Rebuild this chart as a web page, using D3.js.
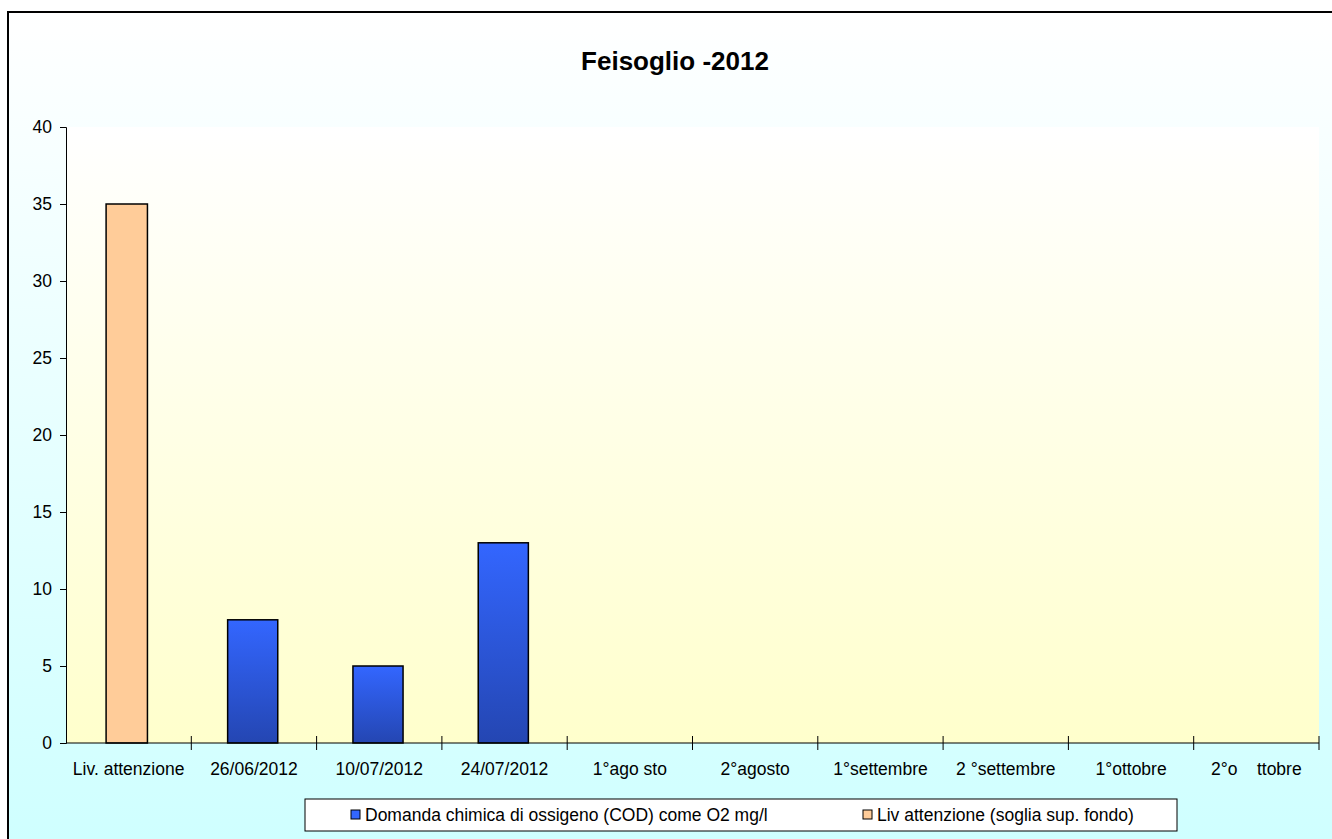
<!DOCTYPE html>
<html>
<head>
<meta charset="utf-8">
<script src="https://cdn.jsdelivr.net/npm/d3@7"></script>
<style>
  body { margin: 0; background: #fff; overflow: hidden; }
  svg { display: block; }
  svg text { font-family: Arial, "Liberation Sans", sans-serif; fill: #000; }
</style>
</head>
<body>
<svg width="1332" height="839"></svg>
<script>
// categories and values
var categories = ["Liv. attenzione", "26/06/2012", "10/07/2012", "24/07/2012", "1°ago sto",
                  "2°agosto", "1°settembre", "2 °settembre", "1°ottobre", "2°o    ttobre"];
var codValues = [null, 8, 5, 13, null, null, null, null, null, null];
var livValues = [35, null, null, null, null, null, null, null, null, null];
var yTicks = [0, 5, 10, 15, 20, 25, 30, 35, 40];
var seriesNames = ["Domanda chimica di ossigeno (COD) come O2 mg/l", "Liv attenzione (soglia sup. fondo)"];

var svg = d3.select("svg"),
    width = +svg.attr("width"),
    height = +svg.attr("height");

var margin = {top: 127, left: 66, right: 13, bottom: 96};
var plotW = width - margin.left - margin.right,
    plotH = height - margin.top - margin.bottom;
var fontSz = "17.5px";

var defs = svg.append("defs");
var bg = defs.append("linearGradient").attr("id", "bg").attr("x1", 0).attr("y1", 0).attr("x2", 0).attr("y2", 1);
bg.append("stop").attr("offset", "0%").attr("stop-color", "#ffffff");
bg.append("stop").attr("offset", "100%").attr("stop-color", "#ccffff");
var pbg = defs.append("linearGradient").attr("id", "pbg").attr("x1", 0).attr("y1", 0).attr("x2", 0).attr("y2", 1);
pbg.append("stop").attr("offset", "0%").attr("stop-color", "#ffffff");
pbg.append("stop").attr("offset", "100%").attr("stop-color", "#ffffcc");
var blue = defs.append("linearGradient").attr("id", "blueg").attr("x1", 0).attr("y1", 0).attr("x2", 0).attr("y2", 1);
blue.append("stop").attr("offset", "0%").attr("stop-color", "#3366ff");
blue.append("stop").attr("offset", "100%").attr("stop-color", "#2446b2");

// outer chart area (right and bottom edges run off the page)
svg.append("rect")
    .attr("x", 8).attr("y", 12)
    .attr("width", width + 40).attr("height", height + 40)
    .attr("fill", "url(#bg)")
    .attr("stroke", "#000").attr("stroke-width", 2);

svg.append("rect")
    .attr("x", margin.left).attr("y", margin.top)
    .attr("width", plotW).attr("height", plotH)
    .attr("fill", "url(#pbg)");

svg.append("text")
    .attr("x", 675).attr("y", 70)
    .attr("text-anchor", "middle")
    .attr("font-size", "26px").attr("font-weight", "bold")
    .text("Feisoglio -2012");

var x = d3.scaleBand().domain(categories).range([0, plotW]);
var y = d3.scaleLinear().domain([0, 40]).range([plotH, 0]);

var g = svg.append("g").attr("transform", "translate(" + margin.left + "," + margin.top + ")");

// bars
var cw = x.bandwidth();
g.selectAll(".liv")
    .data(categories.map(function(c, i) { return {cat: c, v: livValues[i]}; }).filter(function(d) { return d.v != null; }))
    .enter().append("rect")
    .attr("class", "liv")
    .attr("x", function(d) { return x(d.cat) + cw * 0.32; })
    .attr("width", cw * 0.33)
    .attr("y", function(d) { return y(d.v); })
    .attr("height", function(d) { return plotH - y(d.v); })
    .attr("fill", "#ffcc99")
    .attr("stroke", "#000").attr("stroke-width", 1.5);

g.selectAll(".cod")
    .data(categories.map(function(c, i) { return {cat: c, v: codValues[i]}; }).filter(function(d) { return d.v != null; }))
    .enter().append("rect")
    .attr("class", "cod")
    .attr("x", function(d) { return x(d.cat) + cw * 0.29; })
    .attr("width", cw * 0.40)
    .attr("y", function(d) { return y(d.v); })
    .attr("height", function(d) { return plotH - y(d.v); })
    .attr("fill", "url(#blueg)")
    .attr("stroke", "#000").attr("stroke-width", 1.5);

// y axis
var yAxis = d3.axisLeft(y).tickValues(yTicks).tickSize(6).tickPadding(8);
var ya = g.append("g").call(yAxis).attr("font-size", fontSz).attr("font-family", null);
ya.select(".domain").attr("stroke", "#000");

// x axis: ticks at category boundaries
var xa = g.append("g").attr("transform", "translate(0," + plotH + ")");
xa.append("line").attr("x1", 0).attr("x2", plotW).attr("stroke", "#000");
xa.selectAll(".tk")
    .data(categories.map(function(c) { return x(c); }).concat([plotW]).slice(1))
    .enter().append("line")
    .attr("x1", function(d) { return d; }).attr("x2", function(d) { return d; })
    .attr("y1", -7).attr("y2", 7)
    .attr("stroke", "#000");
xa.selectAll(".lbl")
    .data(categories)
    .enter().append("text")
    .attr("x", function(d) { return x(d) + cw / 2; })
    .attr("y", 32)
    .attr("text-anchor", "middle")
    .attr("font-size", fontSz)
    .style("white-space", "pre")
    .text(function(d) { return d; });

// legend
var lg = svg.append("g");
lg.append("rect")
    .attr("x", 305).attr("y", 799).attr("width", 872).attr("height", 32)
    .attr("fill", "#fff").attr("stroke", "#000");
var legItems = [
  {name: seriesNames[0], fill: "#3366ff", x: 351},
  {name: seriesNames[1], fill: "#ffcc99", x: 863}
];
lg.selectAll(".sw")
    .data(legItems)
    .enter().append("rect")
    .attr("x", function(d) { return d.x; }).attr("y", 810)
    .attr("width", 9).attr("height", 9)
    .attr("fill", function(d) { return d.fill; })
    .attr("stroke", "#000");
lg.selectAll(".lt")
    .data(legItems)
    .enter().append("text")
    .attr("x", function(d) { return d.x + 14; }).attr("y", 821)
    .attr("font-size", fontSz)
    .text(function(d) { return d.name; });
</script>
</body>
</html>
